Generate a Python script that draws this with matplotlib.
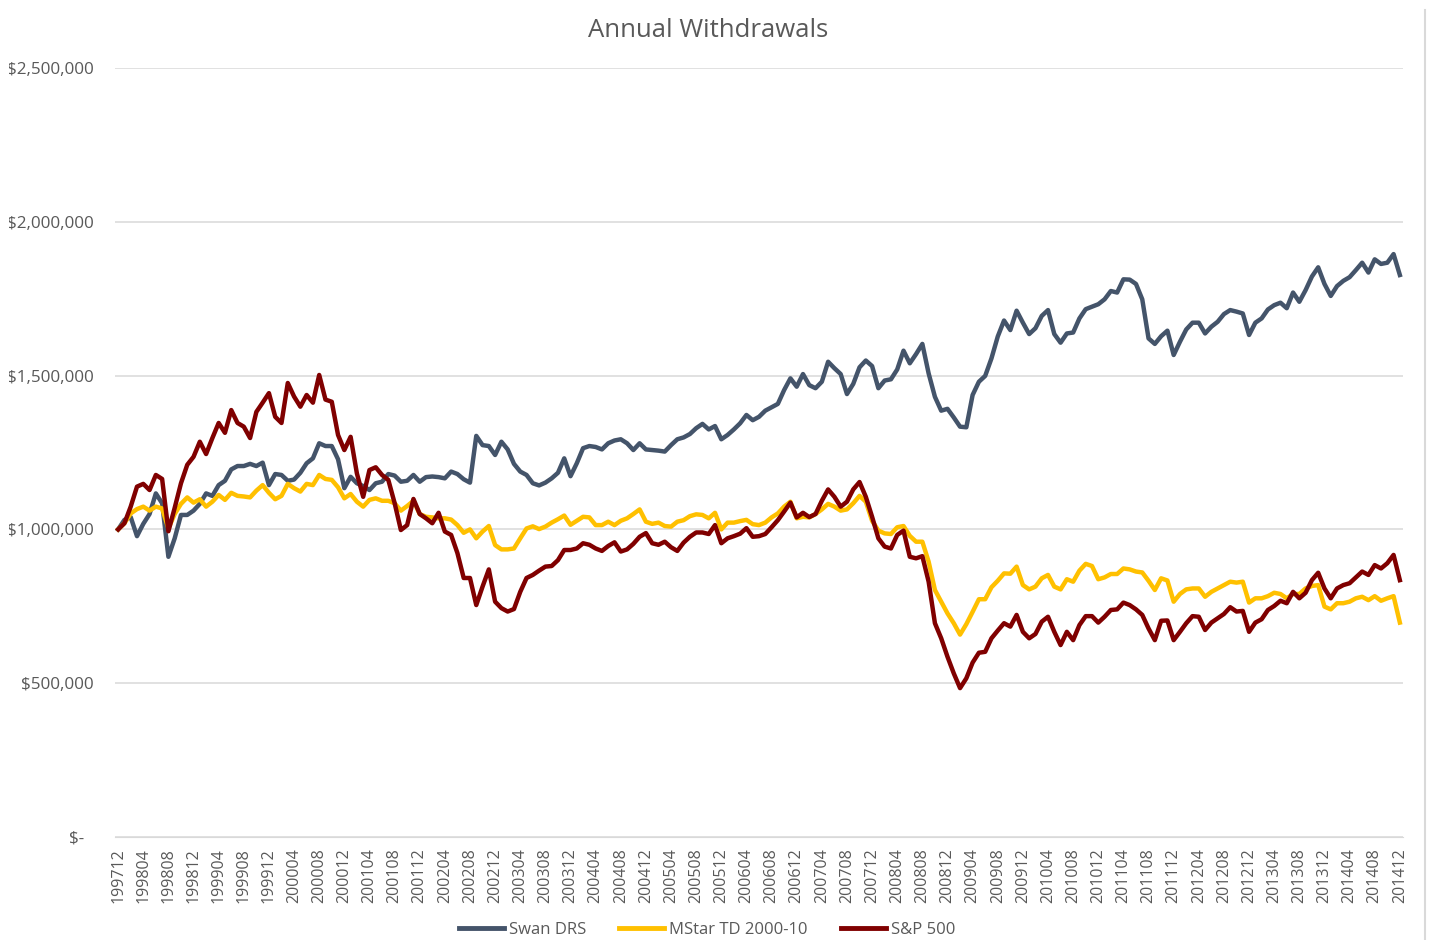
import numpy as np
import pandas as pd
import matplotlib
matplotlib.use('Agg')
import matplotlib.pyplot as plt
from matplotlib.lines import Line2D
from matplotlib import ticker
from matplotlib.transforms import Bbox, TransformedBbox

plt.rcParams['font.family'] = ['Open Sans', 'DejaVu Sans']

# monthly periods, Dec 1997 .. Dec 2014
months = pd.period_range('1997-12', '2014-12', freq='M').strftime('%Y%m').tolist()

# values in $ thousands
swan = [1000, 1031, 1040, 978, 1018, 1050, 1117, 1085, 911, 971,
        1047, 1047, 1061, 1083, 1117, 1109, 1144, 1158, 1195, 1206,
        1206, 1213, 1206, 1217, 1144, 1180, 1177, 1158, 1162, 1184,
        1215, 1231, 1280, 1271, 1271, 1228, 1134, 1171, 1150, 1141,
        1128, 1150, 1155, 1180, 1175, 1155, 1158, 1177, 1155, 1170,
        1172, 1170, 1166, 1188, 1180, 1163, 1152, 1304, 1274, 1271,
        1242, 1285, 1260, 1213, 1188, 1177, 1150, 1143, 1152, 1166,
        1184, 1231, 1173, 1215, 1264, 1271, 1268, 1260, 1280, 1289,
        1293, 1280, 1258, 1280, 1260, 1258, 1256, 1253, 1274, 1293,
        1299, 1310, 1329, 1343, 1325, 1336, 1293, 1307, 1325, 1345,
        1372, 1355, 1366, 1386, 1397, 1408, 1453, 1491, 1464, 1505,
        1469, 1459, 1480, 1545, 1524, 1505, 1440, 1473, 1527, 1549,
        1531, 1459, 1484, 1488, 1520, 1581, 1540, 1570, 1603, 1507,
        1431, 1386, 1392, 1364, 1334, 1332, 1437, 1480, 1499, 1556,
        1627, 1679, 1648, 1711, 1672, 1635, 1654, 1694, 1713, 1635,
        1607, 1637, 1640, 1686, 1716, 1724, 1732, 1748, 1775, 1770,
        1813, 1812, 1798, 1748, 1621, 1603, 1628, 1646, 1567, 1610,
        1650, 1672, 1672, 1637, 1659, 1675, 1700, 1713, 1708, 1702,
        1632, 1672, 1686, 1715, 1729, 1737, 1719, 1770, 1740, 1778,
        1822, 1852, 1798, 1759, 1791, 1808, 1820, 1843, 1867, 1835,
        1878, 1863, 1867, 1895, 1827]

mstar = [1000, 1020, 1052, 1066, 1074, 1061, 1074, 1068, 1003, 1050,
         1083, 1104, 1087, 1098, 1074, 1090, 1112, 1096, 1119, 1109,
         1107, 1104, 1126, 1144, 1119, 1098, 1109, 1148, 1134, 1123,
         1148, 1144, 1177, 1164, 1161, 1137, 1101, 1115, 1090, 1074,
         1096, 1101, 1093, 1093, 1085, 1061, 1076, 1093, 1050, 1041,
         1039, 1036, 1036, 1032, 1014, 989, 1000, 971, 993, 1011,
         949, 935, 935, 938, 971, 1003, 1010, 1001, 1009, 1022,
         1033, 1045, 1015, 1028, 1041, 1039, 1014, 1014, 1025, 1014,
         1028, 1036, 1050, 1065, 1025, 1018, 1022, 1011, 1009, 1025,
         1030, 1043, 1049, 1047, 1036, 1054, 1000, 1022, 1022, 1027,
         1031, 1017, 1014, 1022, 1039, 1052, 1074, 1090, 1036, 1041,
         1039, 1050, 1065, 1083, 1074, 1061, 1065, 1085, 1109, 1090,
         1028, 996, 987, 985, 1007, 1011, 979, 960, 960, 895,
         803, 765, 727, 695, 658, 692, 732, 773, 773, 812,
         833, 857, 856, 879, 819, 805, 814, 841, 852, 814,
         805, 838, 830, 866, 888, 881, 838, 844, 855, 855,
         873, 870, 863, 860, 833, 803, 841, 834, 765, 790,
         805, 808, 808, 781, 797, 808, 819, 830, 827, 830,
         762, 776, 776, 783, 794, 790, 776, 790, 790, 808,
         816, 819, 749, 740, 760, 760, 765, 776, 781, 770,
         783, 768, 776, 783, 697]

sp500 = [1000, 1020, 1074, 1139, 1148, 1128, 1177, 1164, 994, 1070,
         1150, 1210, 1236, 1285, 1245, 1297, 1346, 1314, 1388, 1346,
         1334, 1297, 1382, 1412, 1443, 1366, 1346, 1476, 1432, 1399,
         1437, 1412, 1502, 1422, 1415, 1307, 1258, 1301, 1182, 1106,
         1193, 1202, 1177, 1161, 1086, 998, 1014, 1099, 1050, 1036,
         1020, 1054, 993, 982, 923, 842, 842, 754, 814, 870,
         765, 744, 733, 741, 797, 842, 852, 866, 879, 881,
         900, 933, 933, 938, 955, 950, 938, 930, 946, 958,
         928, 935, 953, 976, 988, 955, 950, 960, 942, 930,
         957, 976, 990, 990, 985, 1014, 955, 971, 978, 986,
         1004, 976, 978, 985, 1007, 1030, 1058, 1087, 1039, 1054,
         1040, 1050, 1093, 1130, 1106, 1074, 1090, 1130, 1154, 1106,
         1041, 971, 944, 938, 982, 996, 911, 906, 913, 830,
         695, 646, 586, 532, 484, 516, 567, 599, 602, 646,
         671, 695, 684, 722, 667, 646, 660, 700, 716, 667,
         624, 667, 640, 689, 718, 718, 697, 716, 738, 740,
         762, 754, 740, 722, 678, 640, 703, 704, 640, 667,
         695, 718, 716, 673, 697, 711, 725, 747, 733, 735,
         667, 697, 708, 738, 751, 768, 760, 797, 776, 794,
         835, 859, 808, 776, 808, 819, 825, 844, 863, 852,
         884, 873, 890, 917, 835]

series = [('Swan DRS', swan, '#44546A'),
          ('MStar TD 2000-10', mstar, '#FFC000'),
          ('S&P 500', sp500, '#800000')]

grey = '#595959'

fig = plt.figure(figsize=(14.31, 9.40), dpi=100)
ax = fig.add_axes([115/1431, 103/940, (1403-115)/1431, (837-68)/940])

x = np.arange(len(months))
for name, vals, col in series:
    ax.plot(x, np.array(vals) * 1000, color=col, lw=3.2, label=name,
            solid_joinstyle='round', zorder=3)

ax.set_xlim(-0.5, len(months) - 0.5)
ax.set_ylim(0, 2500000)
ax.yaxis.set_major_locator(ticker.MultipleLocator(500000))


def money(v, pos):
    if v == 0:
        return '$-  '
    return '${:,.0f}'.format(v)


ax.yaxis.set_major_formatter(ticker.FuncFormatter(money))
ax.set_xticks(x[::4])
ax.set_xticklabels(months[::4], rotation=90)

ax.grid(axis='y', color='#D9D9D9', lw=1.1)
ax.set_axisbelow(True)
for s in ['top', 'right', 'left']:
    ax.spines[s].set_visible(False)
ax.spines['bottom'].set_color('#D9D9D9')
ax.tick_params(axis='both', length=0, colors=grey)
ax.tick_params(axis='y', pad=15.5, labelsize=12.3)
ax.tick_params(axis='x', pad=8, labelsize=11.5)

# the long y labels run off the chart area on the left, as in the original
clip = TransformedBbox(Bbox([[9/1431, 0], [1, 1]]), fig.transFigure)
for t in ax.yaxis.get_major_ticks():
    t.label1.set_clip_box(clip)
    t.label1.set_clip_on(True)

fig.text(0.4945, 0.968, 'Annual Withdrawals', ha='center', va='center',
         fontsize=18.5, color=grey)

handles = [Line2D([0], [0], color=c, lw=3.5) for _, _, c in series]
fig.legend(handles, [n for n, _, _ in series], loc='center',
           bbox_to_anchor=(0.494, 0.011), ncol=3, frameon=False,
           fontsize=12, labelcolor=grey, handlelength=2.7,
           columnspacing=2.0, handletextpad=0.3)

# chart area border on the right
fig.add_artist(Line2D([1425/1431, 1425/1431], [0, 1 - 10/940],
                      color='#D9D9D9', lw=1.5))

fig.savefig('out.png', dpi=100)
